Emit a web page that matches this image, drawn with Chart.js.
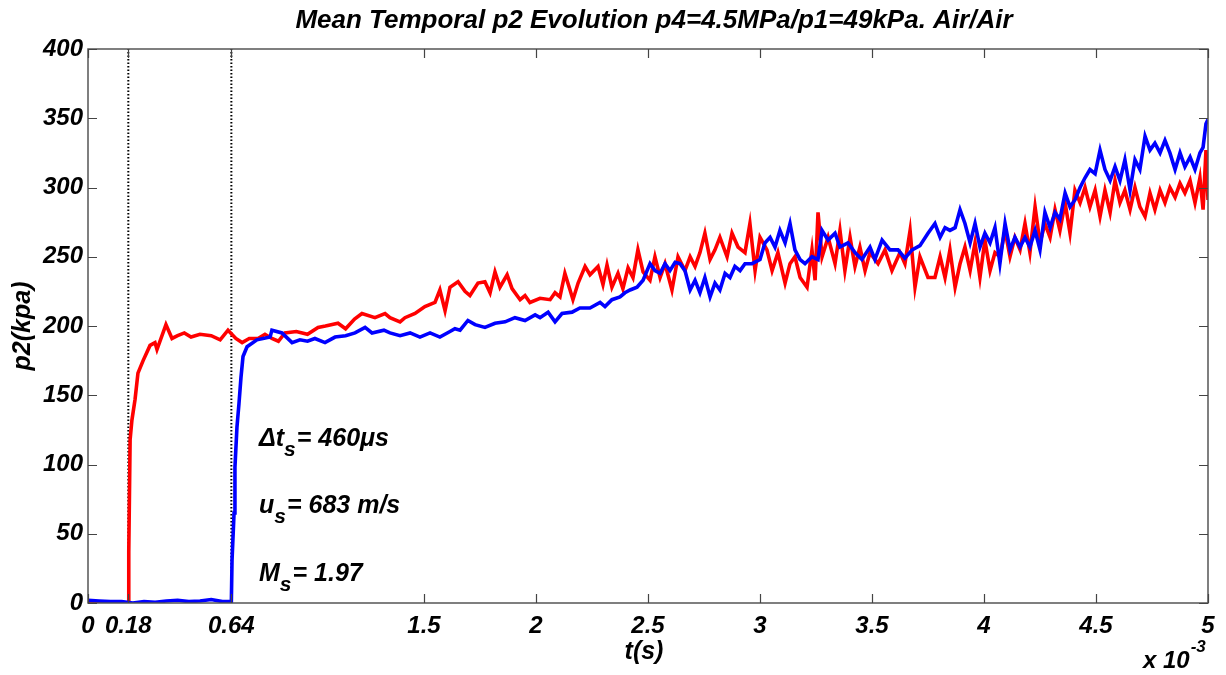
<!DOCTYPE html>
<html><head><meta charset="utf-8">
<script src="https://cdn.jsdelivr.net/npm/chart.js@4/dist/chart.umd.min.js"></script>
<style>html,body{margin:0;padding:0;background:#fff;overflow:hidden}canvas{display:block}</style>
</head><body>
<canvas id="c" width="1226" height="675"></canvas>
<script>
// time in ms (axis shows x 10^-3 s), p2 in kPa
const redTime=[0,0.18,0.182,0.188,0.196,0.210,0.223,0.246,0.277,0.299,
0.308,0.348,0.375,0.40,0.43,0.46,0.50,0.55,0.59,0.625,0.66,0.688,
0.72,0.759,0.79,0.821,0.85,0.879,0.93,0.98,1.027,1.06,1.116,1.15,1.19,1.223,1.281,1.326,1.348,1.393,
1.415,1.460,1.504,1.549,1.571,1.594,1.616,1.652,1.683,1.705,
1.741,1.772,1.795,1.817,1.839,1.871,1.893,1.929,1.951,1.973,
2.018,2.063,2.085,2.107,2.129,2.152,2.165,2.188,2.219,2.241,
2.277,2.299,2.317,2.339,2.366,2.388,2.411,2.433,2.455,2.478,
2.509,2.531,2.554,2.576,2.607,2.634,2.665,2.688,2.710,2.732,
2.754,2.777,2.799,2.821,2.853,2.875,2.902,2.933,2.955,2.978,
3.0,3.031,3.054,3.080,3.112,3.134,3.156,3.179,3.21,3.232,
3.246,3.259,3.277,3.304,3.335,3.357,3.379,3.402,3.424,3.446,
3.469,3.491,3.527,3.558,3.589,3.625,3.647,3.670,3.692,3.714,
3.75,3.781,3.804,3.826,3.848,3.871,3.893,3.915,3.938,3.960,
3.982,4.004,4.027,4.049,4.071,4.094,4.116,4.138,4.161,4.183,
4.205,4.228,4.25,4.272,4.295,4.317,4.339,4.362,4.384,4.406,
4.429,4.451,4.473,4.496,4.518,4.540,4.563,4.585,4.607,4.629,
4.652,4.674,4.696,4.719,4.741,4.763,4.786,4.808,4.830,4.853,
4.875,4.897,4.920,4.942,4.964,4.978,4.991,5.0];
const redP2=[0,0,37,118,132,147,166,175,186,188,
183,201,191,193,195,192,194,193,190,197,191,188,
191,191,194,191,189,195,196,194,199,200,202,198,205,209,206,209,206,203,
206,209,214,217,226,211,228,232,225,222,
231,232,224,239,228,237,227,219,222,217,
220,219,224,221,238,226,219,231,243,237,
243,230,244,228,238,227,242,235,255,239,
233,250,235,245,226,250,240,250,243,253,
267,248,255,264,250,267,257,253,274,240,
264,255,240,253,231,245,250,235,228,255,
233,282,250,264,245,269,240,264,243,257,
240,253,245,255,240,253,245,269,228,250,
235,235,250,235,255,228,245,257,240,260,
235,262,240,253,250,269,250,264,255,274,
253,286,260,274,264,284,269,289,267,298,
289,300,286,298,279,298,282,305,289,298,
284,300,286,279,296,284,298,289,300,293,
303,296,305,289,307,284,327,291];
const blueTime=[0,0.05,0.1,0.15,0.2,0.25,0.3,0.35,0.4,0.45,
0.5,0.55,0.6,0.635,0.64,0.643,0.652,0.656,0.665,0.674,
0.683,0.692,0.710,0.754,0.813,0.821,0.866,0.911,0.946,0.98,1.013,
1.058,1.08,1.103,1.15,1.192,1.237,1.268,1.321,1.348,1.393,1.438,1.482,
1.527,1.571,1.616,1.638,1.661,1.696,1.728,1.772,1.817,1.862,
1.906,1.951,1.996,2.018,2.054,2.085,2.116,2.161,2.196,2.241,
2.286,2.308,2.339,2.375,2.397,2.420,2.451,2.478,2.509,2.531,
2.554,2.576,2.598,2.621,2.643,2.665,2.688,2.71,2.732,2.754,
2.777,2.799,2.821,2.844,2.866,2.888,2.911,2.933,2.964,3.0,
3.022,3.045,3.067,3.089,3.112,3.134,3.156,3.179,3.201,3.232,
3.259,3.277,3.304,3.335,3.357,3.393,3.424,3.455,3.491,3.513,
3.545,3.580,3.616,3.647,3.679,3.714,3.75,3.781,3.804,3.826,
3.848,3.871,3.893,3.915,3.938,3.960,3.982,4.004,4.027,4.049,
4.071,4.094,4.116,4.138,4.161,4.183,4.205,4.228,4.25,4.272,
4.295,4.317,4.339,4.362,4.384,4.406,4.429,4.451,4.473,4.496,
4.518,4.540,4.563,4.585,4.607,4.629,4.652,4.674,4.696,4.719,
4.741,4.763,4.786,4.808,4.830,4.853,4.875,4.897,4.92,4.942,
4.964,4.978,4.991,5.0];
const blueP2=[2,1.5,1,1,0,1,0.5,1.5,2,1,
1.5,2.5,1,1,1,31,65,98,127,144,
163,178,185,190,192,197,195,188,190,189,191,
188,190,192,193,195,199,195,197,195,193,195,192,
195,192,196,198,197,204,201,199,202,203,
206,204,208,206,210,203,209,210,213,213,
217,214,219,221,224,226,228,233,245,240,
238,245,240,246,245,240,226,233,224,235,
221,231,226,238,235,243,240,245,245,248,
260,264,257,269,260,274,255,248,245,250,
248,269,262,267,257,260,253,248,257,248,
262,255,255,249,255,258,267,274,264,271,
269,271,284,274,260,274,257,267,260,271,
245,274,255,264,257,264,257,269,255,282,
271,282,277,296,286,291,300,307,313,310,
327,313,305,315,305,320,298,320,313,337,
327,332,325,334,325,313,325,315,322,313,
325,329,346,349];
const xTicks=[0,0.18,0.64,1.5,2,2.5,3,3.5,4,4.5,5];
const yTicks=[0,50,100,150,200,250,300,350,400];
const markerTimes=[0.18,0.64];
const titleText='Mean Temporal p2 Evolution p4=4.5MPa/p1=49kPa. Air/Air';
const xLabel='t(s)';
const yLabel='p2(kpa)';
const notes=[['\u0394t','s','= 460\u03bcs'],['u','s','= 683 m/s'],['M','s','= 1.97']];

const FF='"Liberation Sans", Arial, Helvetica, sans-serif';
const zip=(t,v)=>t.map((x,i)=>({x:x,y:v[i]}));

const datasets=[];
markerTimes.forEach(t=>{
  datasets.push({data:[{x:t,y:0},{x:t,y:400}],borderColor:'#000',borderWidth:2,borderDash:[1.5,2],pointRadius:0,order:3});
});
datasets.push({label:'red',data:zip(redTime,redP2),borderColor:'#ff0000',borderWidth:3.6,pointRadius:0,tension:0,order:2});
datasets.push({label:'blue',data:zip(blueTime,blueP2),borderColor:'#0000ff',borderWidth:3.6,pointRadius:0,tension:0,order:1});

const framePlugin={id:'frame',afterDatasetsDraw(chart){
  const {ctx,chartArea:a,scales:{x,y}}=chart;
  ctx.save();
  ctx.strokeStyle='#555';ctx.lineWidth=1.5;
  ctx.strokeRect(a.left,a.top,a.right-a.left,a.bottom-a.top);
  ctx.strokeStyle='#444';ctx.lineWidth=1.2;
  const L=9;
  ctx.beginPath();
  xTicks.forEach(v=>{const px=Math.round(x.getPixelForValue(v))+0.5;
    ctx.moveTo(px,a.bottom);ctx.lineTo(px,a.bottom-L);
    ctx.moveTo(px,a.top);ctx.lineTo(px,a.top+L);});
  yTicks.forEach(v=>{const py=Math.round(y.getPixelForValue(v))+0.5;
    ctx.moveTo(a.left,py);ctx.lineTo(a.left+L,py);
    ctx.moveTo(a.right,py);ctx.lineTo(a.right-L,py);});
  ctx.stroke();
  ctx.restore();
}};

function drawSub(ctx,x,y,main,sub,rest,size){
  ctx.font='italic bold '+size+'px '+FF;
  ctx.textBaseline='alphabetic';ctx.textAlign='left';
  ctx.fillText(main,x,y);
  let w=ctx.measureText(main).width;
  ctx.font='italic bold '+Math.round(size*0.85)+'px '+FF;
  ctx.fillText(sub,x+w,y+10);
  const ws=ctx.measureText(sub).width;
  ctx.font='italic bold '+size+'px '+FF;
  ctx.fillText(rest,x+w+ws+1,y);
}

const textPlugin={id:'texts',afterDraw(chart){
  const {ctx,chartArea:a}=chart;
  ctx.save();ctx.fillStyle='#000';
  ctx.font='italic bold 26px '+FF;ctx.textAlign='center';ctx.textBaseline='alphabetic';
  ctx.fillText(titleText,654,28);
  ctx.font='italic bold 25px '+FF;
  ctx.fillText(xLabel,644,659);
  ctx.save();ctx.translate(30,326);ctx.rotate(-Math.PI/2);
  ctx.fillText(yLabel,0,0);ctx.restore();
  // x 10^-3
  ctx.textAlign='left';
  ctx.font='italic bold 24px '+FF;
  ctx.fillText('x 10',1143,668);
  const w=ctx.measureText('x 10').width;
  ctx.font='italic bold 17px '+FF;
  ctx.fillText('-3',1143+w+1,652);
  // annotations
  const ys=[446,513,581];
  notes.forEach((n,i)=>drawSub(ctx,259,ys[i],n[0],n[1],n[2],25));
  ctx.restore();
}};

new Chart(document.getElementById('c'),{
  type:'line',
  data:{datasets:datasets},
  options:{
    responsive:false,animation:false,
    layout:{padding:{top:49,right:18,left:0,bottom:0}},
    plugins:{legend:{display:false},tooltip:{enabled:false},title:{display:false}},
    scales:{
      x:{type:'linear',min:0,max:5,
        grid:{display:false,drawTicks:false},border:{display:false},
        afterBuildTicks(s){s.ticks=xTicks.map(v=>({value:v}));},
        afterFit(s){s.height=72;},
        ticks:{autoSkip:false,maxRotation:0,padding:9,color:'#000',
          font:{family:FF,size:24,style:'italic',weight:'bold'},
          callback:v=>String(v)}},
      y:{type:'linear',min:0,max:400,
        grid:{display:false,drawTicks:false},border:{display:false},
        afterBuildTicks(s){s.ticks=yTicks.map(v=>({value:v}));},
        afterFit(s){s.width=88;},
        ticks:{padding:5,color:'#000',
          font:{family:FF,size:24,style:'italic',weight:'bold'},
          callback:v=>String(v)}}
    }
  },
  plugins:[framePlugin,textPlugin]
});
</script>
</body></html>
